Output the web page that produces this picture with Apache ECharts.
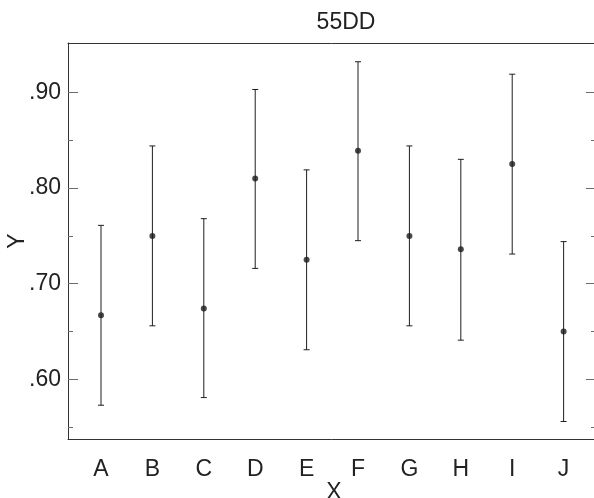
<!DOCTYPE html>
<html>
<head>
<meta charset="utf-8">
<script src="https://cdn.jsdelivr.net/npm/echarts@6/dist/echarts.min.js"></script>
<style>
  html, body { margin: 0; padding: 0; background: #fff; }
  #chart { width: 594px; height: 498px; }
</style>
</head>
<body>
<div id="chart"></div>
<script>
// Group means with their lower / upper interval limits
const categories = ['A', 'B', 'C', 'D', 'E', 'F', 'G', 'H', 'I', 'J'];
const means = [0.667, 0.750, 0.674, 0.810, 0.725, 0.839, 0.750, 0.736, 0.825, 0.650];
const lower = [0.573, 0.656, 0.581, 0.716, 0.631, 0.745, 0.656, 0.641, 0.731, 0.556];
const upper = [0.761, 0.844, 0.768, 0.903, 0.819, 0.932, 0.844, 0.830, 0.919, 0.744];

// Y axis ticks
const majorTicks = [0.60, 0.70, 0.80, 0.90];
const minorTicks = [0.55, 0.65, 0.75, 0.85];
const tickLabels = ['.60', '.70', '.80', '.90'];

const titleText = '55DD';
const xName = 'X';
const yName = 'Y';

const FONT = '"Liberation Sans", Arial, Helvetica, sans-serif';
const FONT_SIZE = 23;
const TEXT_COLOR = '#222';
const AXIS_COLOR = '#333';
const TICK_COLOR = '#6a6a6a';
const Y_MIN = 0.5377, Y_MAX = 0.9516;
const X_MIN = -0.642, X_MAX = 9.63;

const chart = echarts.init(document.getElementById('chart'), null, { renderer: 'canvas' });

function yAxisDef(position, ticks, len, showLabels, showLine) {
  return {
    type: 'value',
    position: position,
    min: Y_MIN,
    max: Y_MAX,
    splitLine: { show: false },
    axisLine: { show: showLine, onZero: false, lineStyle: { color: AXIS_COLOR, width: 1 } },
    axisTick: {
      show: true,
      inside: true,
      length: len,
      customValues: ticks,
      lineStyle: { color: TICK_COLOR, width: 1 }
    },
    axisLabel: showLabels ? {
      show: true,
      customValues: majorTicks,
      formatter: function (v) {
        const i = majorTicks.findIndex(t => Math.abs(t - v) < 1e-6);
        return i >= 0 ? tickLabels[i] : '';
      },
      margin: 7,
      fontFamily: FONT,
      fontSize: FONT_SIZE,
      color: TEXT_COLOR
    } : { show: false }
  };
}

const yAxes = [
  Object.assign(yAxisDef('left', majorTicks, 10, true, true), {
    name: yName,
    nameLocation: 'middle',
    nameRotate: 90,
    nameGap: 39,
    nameMoveOverlap: false,
    nameTextStyle: { fontFamily: FONT, fontSize: FONT_SIZE, color: TEXT_COLOR }
  }),
  yAxisDef('left', minorTicks, 5, false, false),
  yAxisDef('right', majorTicks, 10, false, true),
  yAxisDef('right', minorTicks, 5, false, false)
];

const option = {
  animation: false,
  backgroundColor: '#fff',
  title: {
    text: titleText,
    left: 341,
    top: 6,
    textAlign: 'center',
    textStyle: { fontFamily: FONT, fontSize: FONT_SIZE, fontWeight: 'normal', color: TEXT_COLOR }
  },
  grid: { left: 68, right: -2, top: 43, bottom: 59, containLabel: false, outerBoundsMode: 'none' },
  xAxis: [
    {
      type: 'value',
      position: 'bottom',
      min: X_MIN,
      max: X_MAX,
      splitLine: { show: false },
      axisLine: { show: true, onZero: false, lineStyle: { color: AXIS_COLOR, width: 1 } },
      axisTick: { show: false },
      axisLabel: {
        show: true,
        customValues: categories.map((_, i) => i),
        formatter: function (v) { return categories[Math.round(v)] || ''; },
        margin: 19,
        fontFamily: FONT,
        fontSize: FONT_SIZE,
        color: TEXT_COLOR
      },
      name: xName,
      nameLocation: 'middle',
      nameGap: 42,
      nameMoveOverlap: false,
      nameTextStyle: { fontFamily: FONT, fontSize: FONT_SIZE, color: TEXT_COLOR, padding: [0, 0, 0, 4] }
    },
    {
      type: 'value',
      position: 'top',
      min: X_MIN,
      max: X_MAX,
      splitLine: { show: false },
      axisLine: { show: true, onZero: false, lineStyle: { color: AXIS_COLOR, width: 1 } },
      axisTick: { show: false },
      axisLabel: { show: false }
    }
  ],
  yAxis: yAxes,
  series: [
    {
      type: 'custom',
      xAxisIndex: 0,
      yAxisIndex: 0,
      data: categories.map((c, i) => [i, lower[i], upper[i]]),
      renderItem: function (params, api) {
        const x = api.value(0);
        const lo = api.coord([x, api.value(1)]);
        const hi = api.coord([x, api.value(2)]);
        const cap = 3;
        const style = { stroke: '#1e1e1e', lineWidth: 1, fill: null };
        return {
          type: 'group',
          children: [
            { type: 'line', shape: { x1: hi[0], y1: hi[1], x2: lo[0], y2: lo[1] }, style: style },
            { type: 'line', shape: { x1: hi[0] - cap, y1: hi[1], x2: hi[0] + cap, y2: hi[1] }, style: style },
            { type: 'line', shape: { x1: lo[0] - cap, y1: lo[1], x2: lo[0] + cap, y2: lo[1] }, style: style }
          ]
        };
      },
      z: 2
    },
    {
      type: 'scatter',
      xAxisIndex: 0,
      yAxisIndex: 0,
      data: categories.map((c, i) => [i, means[i]]),
      symbol: 'circle',
      symbolSize: 6,
      itemStyle: { color: '#1a1a1a' },
      z: 3
    }
  ]
};

chart.setOption(option);
</script>
</body>
</html>
